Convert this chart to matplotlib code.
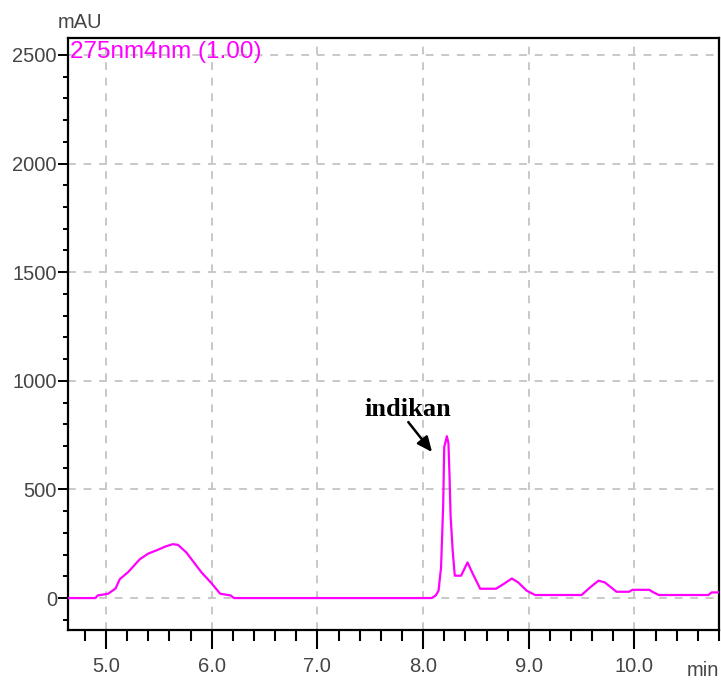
import numpy as np
import matplotlib
matplotlib.use("Agg")
import matplotlib.pyplot as plt
from matplotlib.ticker import MultipleLocator

# retention time (min) and detector signal (mAU), 275 nm channel
time_min = [4.64, 4.90, 4.92, 5.02, 5.09, 5.13, 5.21, 5.32, 5.40, 5.48, 5.56, 5.63,
            5.68, 5.76, 5.90, 6.00, 6.08, 6.18, 6.21, 8.08, 8.12, 8.146, 8.17, 8.19,
            8.20, 8.225, 8.24, 8.25, 8.26, 8.28, 8.30, 8.36, 8.42, 8.47, 8.54, 8.69,
            8.75, 8.84, 8.90, 8.98, 9.06, 9.50, 9.58, 9.66, 9.72, 9.83, 9.95, 9.98,
            10.14, 10.17, 10.23, 10.70, 10.73, 10.80]
signal_mau = [0, 0, 12, 20, 44, 87, 120, 179, 205, 220, 237, 248,
              245, 210, 120, 67, 20, 12, 0, 0, 12, 34, 141, 426,
              695, 745, 712, 565, 380, 218, 103, 103, 164, 112, 43, 43,
              61, 90, 72, 34, 14, 14, 49, 80, 72, 29, 29, 38,
              38, 29, 14, 14, 26, 26]

x_major = [5.0, 6.0, 7.0, 8.0, 9.0, 10.0]
x_labels = ["5.0", "6.0", "7.0", "8.0", "9.0", "10.0"]
y_major = [0, 500, 1000, 1500, 2000, 2500]

peak_name = "indikan"
peak_tip = (8.085, 672)
peak_tail = (7.86, 810)

fig = plt.figure(figsize=(7.21, 6.88), dpi=100)
ax = fig.add_axes([68 / 721, 1 - 630 / 688, 651 / 721, 592 / 688])

ax.plot(time_min, signal_mau, color="#ff00ff", lw=1.6, zorder=3)

ax.set_xlim(4.64, 10.8)
ax.set_ylim(-147, 2578)

ax.set_xticks(x_major)
ax.set_xticklabels(x_labels)
ax.set_yticks(y_major)
ax.xaxis.set_minor_locator(MultipleLocator(0.2))
ax.yaxis.set_minor_locator(MultipleLocator(100))

ax.grid(True, which="major", color="#c8c8c8", linestyle=(0, (4, 4)), lw=1.4)
ax.set_axisbelow(True)

for s in ax.spines.values():
    s.set_linewidth(1.6)
    s.set_color("black")

lbl_font = dict(family=["Liberation Sans", "DejaVu Sans"], size=14.5, color="#454545")
ax.tick_params(axis="x", which="major", direction="out", length=13.5, width=1.5, pad=6)
ax.tick_params(axis="x", which="minor", direction="out", length=8, width=1.5)
ax.tick_params(axis="y", which="major", direction="out", length=7, width=1.4, pad=1)
ax.tick_params(axis="y", which="minor", direction="out", length=3.6, width=1.4)
for t in ax.get_xticklabels() + ax.get_yticklabels():
    t.set_fontfamily(lbl_font["family"])
    t.set_fontsize(lbl_font["size"])
    t.set_color(lbl_font["color"])

fig.text(80 / 721, 1 - 23 / 688, "mAU", ha="center", va="center", **lbl_font)
fig.text(719 / 721, 1 - 670 / 688, "min", ha="right", va="center", **lbl_font)
fig.text(70 / 721, 1 - 52 / 688, "275nm4nm (1.00)", ha="left", va="center",
         family=["Liberation Sans", "DejaVu Sans"], size=17.5, color="#ff00ff")

ax.annotate(peak_name, xy=peak_tip, xytext=(8.0 - (422.7 - 407) / 106.6, 870),
            ha="center", va="center", fontsize=19, fontweight="bold",
            family=["Liberation Serif", "DejaVu Serif"], color="black")
ax.annotate("", xy=peak_tip, xytext=peak_tail,
            arrowprops=dict(arrowstyle="-|>,head_length=0.9,head_width=0.4",
                            color="black", lw=1.8, shrinkA=0, shrinkB=0))

fig.savefig("out.png", dpi=100)
